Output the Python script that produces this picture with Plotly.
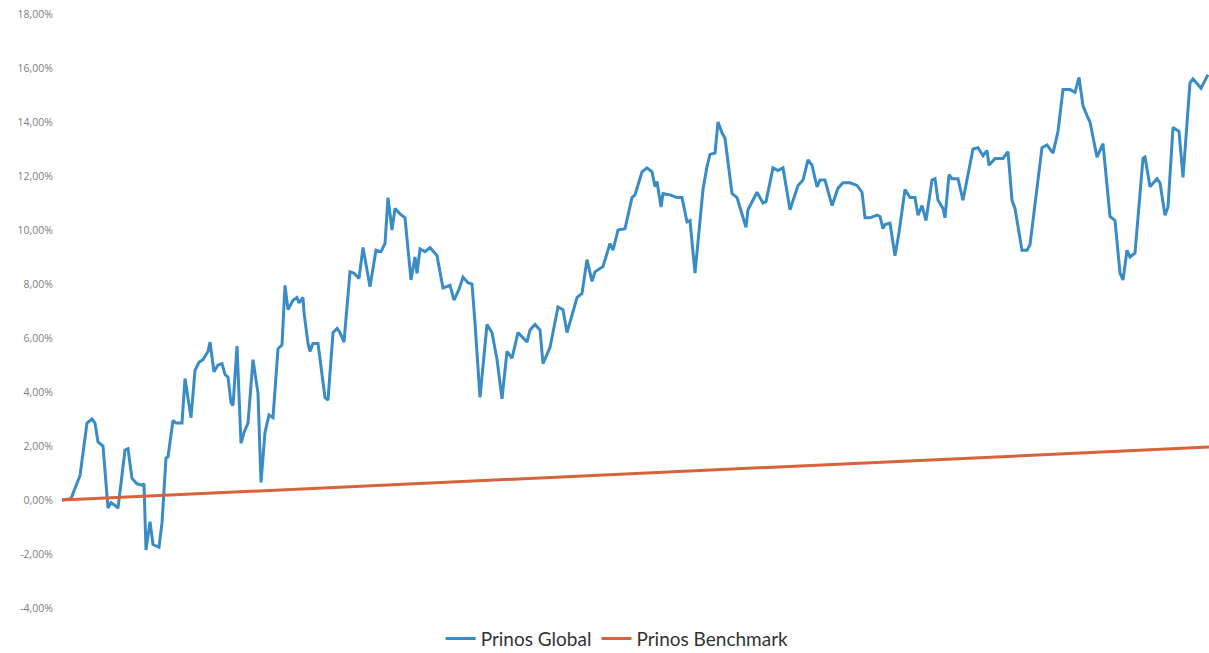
import plotly.graph_objects as go

# Trading-day index (x) and cumulative return in percent
days = [0, 9, 18, 25, 30, 33, 36, 41, 46, 49, 53, 56, 63, 66, 70, 75, 80, 82, 84, 88, 91, 97,
        100, 104, 106, 111, 114, 120, 123, 129, 133, 137, 141, 146, 148, 152, 156, 160, 163, 166,
        169, 171, 175, 179, 182, 186, 191, 196, 199, 203, 207, 211, 216, 220, 223, 226, 231, 235,
        237, 241, 242, 246, 248, 251, 256, 263, 266, 271, 275, 278, 282, 288, 292, 297, 301, 308,
        314, 319, 323, 326, 330, 333, 338, 343, 349, 353, 355, 358, 363, 368, 375, 381, 388, 392,
        397, 401, 406, 410, 413, 418, 425, 430, 435, 440, 445, 450, 456, 465, 468, 473, 478, 481,
        488, 496, 501, 505, 515, 520, 525, 530, 533, 541, 548, 551, 556, 563, 570, 573, 580, 585,
        590, 593, 595, 599, 601, 608, 615, 620, 625, 628, 633, 636, 641, 645, 648, 653, 656, 660,
        663, 670, 675, 684, 686, 695, 701, 704, 711, 716, 721, 728, 736, 741, 746, 750, 755, 758,
        763, 770, 776, 781, 788, 795, 800, 803, 808, 815, 818, 821, 823, 828, 833, 837, 843, 848,
        853, 856, 860, 864, 870, 873, 876, 881, 883, 887, 890, 896, 901, 911, 916, 921, 925, 927,
        933, 941, 946, 950, 953, 960, 965, 968, 980, 985, 991, 996, 1001, 1008, 1013, 1017, 1021,
        1026, 1028, 1035, 1041, 1048, 1053, 1058, 1061, 1065, 1068, 1073, 1081, 1083, 1088, 1095,
        1098, 1103, 1106, 1111, 1117, 1121, 1128, 1131, 1139, 1146]

global_ret = [0.0, 0.05, 0.9, 2.85, 3.0, 2.85, 2.15, 2.0, -0.3, -0.1, -0.2, -0.3, 1.85, 1.9,
              0.8, 0.6, 0.55, 0.6, -1.85, -0.8, -1.65, -1.75, -0.85, 1.55, 1.6, 2.95, 2.85,
              2.85, 4.5, 3.05, 4.8, 5.1, 5.2, 5.5, 5.85, 4.75, 5.0, 5.05, 4.65, 4.55, 3.6, 3.5,
              5.7, 2.1, 2.5, 2.85, 5.2, 3.95, 0.65, 2.5, 3.15, 3.05, 5.6, 5.75, 7.95, 7.05, 7.4,
              7.5, 7.3, 7.5, 6.95, 5.8, 5.5, 5.8, 5.8, 3.8, 3.7, 6.2, 6.35, 6.2, 5.85, 8.45, 8.4,
              8.2, 9.35, 7.9, 9.25, 9.2, 9.5, 11.2, 10.0, 10.8, 10.6, 10.45, 8.15, 9.0, 8.4, 9.3,
              9.2, 9.35, 9.05, 7.85, 7.95, 7.4, 7.8, 8.25, 8.05, 8.0, 6.55, 3.8, 6.5, 6.2, 5.2,
              3.75, 5.5, 5.25, 6.2, 5.85, 6.3, 6.5, 6.3, 5.05, 5.65, 7.15, 7.05, 6.2, 7.5, 7.65,
              8.9, 8.1, 8.45, 8.65, 9.5, 9.25, 10.0, 10.05, 11.2, 11.3, 12.15, 12.3, 12.15, 11.6,
              11.8, 10.85, 11.35, 11.3, 11.2, 11.2, 10.3, 10.35, 8.4, 9.6, 11.5, 12.35, 12.8,
              12.85, 14.0, 13.6, 13.4, 11.35, 11.2, 10.1, 10.75, 11.4, 11.0, 11.05, 12.3, 12.2,
              12.3, 10.75, 11.65, 11.85, 12.6, 12.4, 11.6, 11.85, 11.85, 10.9, 11.55, 11.75,
              11.75, 11.65, 11.4, 10.45, 10.45, 10.55, 10.5, 10.05, 10.2, 10.25, 9.05, 9.9, 11.5,
              11.2, 11.2, 10.55, 10.9, 10.35, 11.85, 11.9, 11.1, 10.8, 10.45, 12.05, 11.9, 11.9,
              11.1, 13.0, 13.05, 12.75, 12.95, 12.4, 12.65, 12.65, 12.9, 11.1, 10.8, 9.25, 9.25,
              9.45, 13.05, 13.15, 12.85, 13.65, 15.2, 15.2, 15.1, 15.65, 14.6, 14.15, 14.0, 12.7,
              13.2, 10.5, 10.35, 8.4, 8.15, 9.25, 9.0, 9.15, 12.65, 12.7, 11.6, 11.9, 11.75,
              10.55, 10.85, 13.8, 13.65, 11.95, 15.45, 15.6, 15.25, 15.75]

bench_days = [0, 1147]
bench_ret = [0.0, 1.96]

y_ticks = [-4, -2, 0, 2, 4, 6, 8, 10, 12, 14, 16, 18]
y_tick_labels = [f"{v:.2f}".replace(".", ",") + "%" for v in y_ticks]

fig = go.Figure()
fig.add_trace(go.Scatter(x=days, y=global_ret, mode="lines", name="Prinos Global",
                         line=dict(color="#3a8cc6", width=3)))
fig.add_trace(go.Scatter(x=bench_days, y=bench_ret, mode="lines", name="Prinos Benchmark",
                         line=dict(color="#d8623a", width=3)))

fig.update_layout(
    width=1209, height=653,
    margin=dict(l=62, r=0, t=14, b=45, autoexpand=False),
    paper_bgcolor="white", plot_bgcolor="white",
    showlegend=True,
    legend=dict(orientation="h", x=0.484, xanchor="center",
                yref="container", y=0.022, yanchor="middle",
                font=dict(family="Lato, Open Sans, sans-serif", size=19, color="#333333"),
                itemwidth=30),
    xaxis=dict(range=[0, 1147], showgrid=False, zeroline=False, showticklabels=False,
               showline=False, ticks=""),
    yaxis=dict(range=[-4, 18], tickvals=y_ticks, ticktext=y_tick_labels,
               showgrid=False, zeroline=False, showline=False, ticks="",
               ticklabelstandoff=8, automargin=False,
               tickfont=dict(family="Open Sans, sans-serif", size=10.5, color="#808080")),
)

fig.write_html("out.html")
